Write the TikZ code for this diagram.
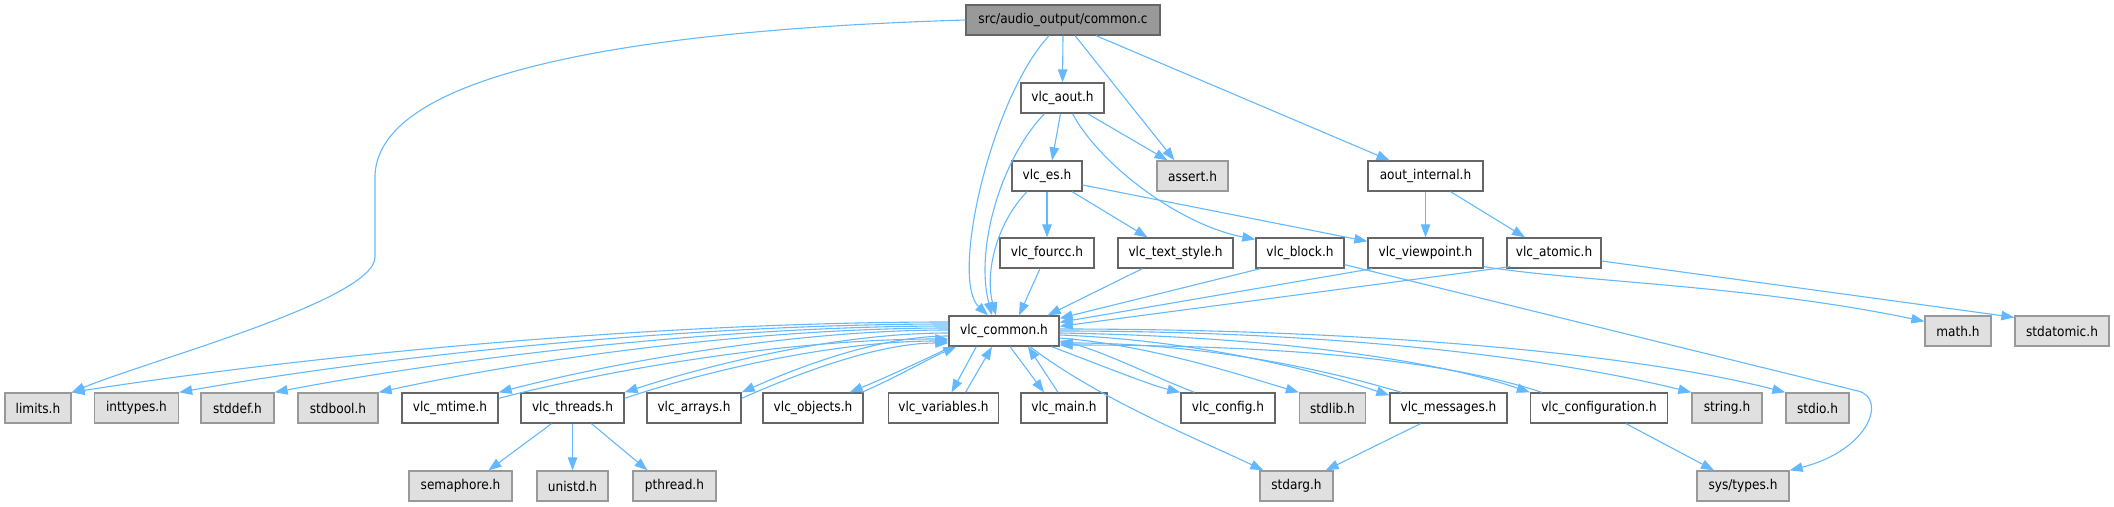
\documentclass[tikz,border=0pt]{standalone}
\usepackage{fontspec}
\setmainfont{DejaVu Sans Condensed}
\usetikzlibrary{arrows.meta,calc}
\definecolor{edgeblue}{HTML}{63B8FF}
\definecolor{bord}{HTML}{666666}
\definecolor{sysbord}{HTML}{999999}
\definecolor{sysfill}{HTML}{E0E0E0}
\definecolor{topfill}{HTML}{999999}
\tikzset{
  hbox/.style={draw=bord, fill=white, line width=1.3pt, minimum height=30pt, inner sep=0pt, text=black, font=\fontsize{13.5}{16}\selectfont},
  sysbox/.style={hbox, draw=sysbord, fill=sysfill},
  topbox/.style={hbox, fill=topfill},
  dep/.style={draw=edgeblue, line width=1.1pt, -{Triangle[length=13pt,width=9.5pt]}},
}
\begin{document}
\begin{tikzpicture}[x=1pt,y=-1pt]
\useasboundingbox (0,0) rectangle (2114,506);
% ---- nodes ----
\node[topbox, minimum width=194pt] (cmn) at (1063,20) {src/audio\_output/common.c};
\node[hbox, minimum width=83pt] (aout) at (1062.5,98) {vlc\_aout.h};
\node[sysbox, minimum width=71pt] (asrt) at (1192.5,176) {assert.h};
\node[hbox, minimum width=70pt] (es) at (1047,176) {vlc\_es.h};
\node[hbox, minimum width=115pt] (aint) at (1425.5,176) {aout\_internal.h};
\node[hbox, minimum width=94pt] (fcc) at (1047,253) {vlc\_fourcc.h};
\node[hbox, minimum width=115pt] (txt) at (1175.5,253) {vlc\_text\_style.h};
\node[hbox, minimum width=88pt] (blk) at (1300,253) {vlc\_block.h};
\node[hbox, minimum width=115pt] (vp) at (1425.5,253) {vlc\_viewpoint.h};
\node[hbox, minimum width=94pt] (atm) at (1554,253) {vlc\_atomic.h};
\node[hbox, minimum width=110pt] (vc) at (1004,331) {vlc\_common.h};
\node[sysbox, minimum width=66pt] (mth) at (1958,331) {math.h};
\node[sysbox, minimum width=94pt] (satm) at (2062,331) {stdatomic.h};
\node[sysbox, minimum width=66pt] (lim) at (38,408) {limits.h};
\node[sysbox, minimum width=84pt] (intt) at (136.5,408) {inttypes.h};
\node[sysbox, minimum width=73pt] (sdef) at (237.5,408) {stddef.h};
\node[sysbox, minimum width=80pt] (sbool) at (338,408) {stdbool.h};
\node[hbox, minimum width=96pt] (mt) at (450,408) {vlc\_mtime.h};
\node[hbox, minimum width=103pt] (thr) at (572.5,408) {vlc\_threads.h};
\node[hbox, minimum width=94pt] (arr) at (694,408) {vlc\_arrays.h};
\node[hbox, minimum width=100pt] (obj) at (813,408) {vlc\_objects.h};
\node[hbox, minimum width=110pt] (var) at (943.5,408) {vlc\_variables.h};
\node[hbox, minimum width=86pt] (vmain) at (1064,408) {vlc\_main.h};
\node[hbox, minimum width=94pt] (cfg) at (1228,408) {vlc\_config.h};
\node[sysbox, minimum width=66pt] (slib) at (1332.5,408) {stdlib.h};
\node[hbox, minimum width=117pt] (msg) at (1448.5,408) {vlc\_messages.h};
\node[hbox, minimum width=137pt] (cnf) at (1599,408) {vlc\_configuration.h};
\node[sysbox, minimum width=70pt] (str) at (1727,408) {string.h};
\node[sysbox, minimum width=63pt] (sio) at (1817.5,408) {stdio.h};
\node[sysbox, minimum width=103pt] (sem) at (460.5,486) {semaphore.h};
\node[sysbox, minimum width=71pt] (uni) at (572.5,486) {unistd.h};
\node[sysbox, minimum width=83pt] (pth) at (674.5,486) {pthread.h};
\node[sysbox, minimum width=73pt] (sarg) at (1296.5,486) {stdarg.h};
\node[sysbox, minimum width=92pt] (stys) at (1743,486) {sys/types.h};
% ---- top part ----
\draw[dep] (cmn.south) -- (aout.north);
\draw[dep] ($(cmn.south)+(12,0)$) -- ($(asrt.north)+(-18,0)$);
\draw[dep] ($(cmn.south)+(33,0)$) -- ($(aint.north)+(-36,0)$);
\draw[dep] ($(cmn.south)+(-14,0)$) .. controls (990,100) and (950,280) .. ($(vc.north)+(-16,0)$);
\draw[dep] (cmn.west) .. controls (700,28) and (380,60) .. (375,175) -- (375,257) .. controls (375,300) and (150,360) .. (lim.north east);
\draw[dep] ($(aout.south)+(-2,0)$) -- ($(es.north)+(5,0)$);
\draw[dep] ($(aout.south)+(25,0)$) -- ($(asrt.north)+(-25,0)$);
\draw[dep] ($(aout.south)+(10,0)$) .. controls (1100,165) and (1180,225) .. ($(blk.north west)+(0,2)$);
\draw[dep] ($(aout.south)+(-18,0)$) .. controls (1000,160) and (975,250) .. ($(vc.north)+(-12,0)$);
\draw[dep] (es.south) -- (fcc.north);
\draw[dep] ($(es.south)+(25,0)$) -- ($(txt.north)+(-28,0)$);
\draw[dep] ($(es.east)+(0,9)$) -- ($(vp.north west)+(0,4)$);
\draw[dep] ($(es.south)+(-20,0)$) .. controls (995,225) and (985,275) .. ($(vc.north)+(-8,0)$);
\draw[dep] (aint.south) -- (vp.north);
\draw[dep] ($(aint.south)+(25,0)$) -- ($(atm.north)+(-29,0)$);
\draw[dep] ($(fcc.south)+(-7,0)$) -- ($(vc.north)+(15,0)$);
\draw[dep] ($(txt.south west)+(25,0)$) -- ($(vc.north east)+(-12,0)$);
\draw[dep] ($(blk.south west)+(5,0)$) -- ($(vc.north east)+(0,3)$);
\draw[dep] ($(vp.south west)+(5,0)$) -- ($(vc.north east)+(0,7)$);
\draw[dep] ($(atm.south west)+(4,-2)$) -- ($(vc.north east)+(0,11)$);
\draw[dep] ($(blk.south east)+(0,-4)$) -- (1858,391) .. controls (1887,398) and (1870,450) .. (stys.north east);
\draw[dep] ($(vp.south east)+(0,-2)$) .. controls (1580,282) and (1750,285) .. ($(mth.north west)+(0,6)$);
\draw[dep] ($(atm.east)+(0,8)$) -- ($(satm.north west)+(0,2)$);
% ---- vlc_common to the left ----
\draw[dep] ($(vc.west)+(0,-9)$) .. controls (642,322) and (291,358) .. (lim.north east);
\draw[dep] ($(vc.west)+(0,-7)$) .. controls (679,324) and (371,358) .. (intt.north east);
\draw[dep] ($(vc.west)+(0,-5)$) .. controls (713,326) and (443,360) .. (sdef.north east);
\draw[dep] ($(vc.west)+(0,-3)$) .. controls (749,328) and (521,361) .. (sbool.north east);
\draw[dep] ($(vc.west)+(0,-1)$) .. controls (791,330) and (611,363) .. (mt.north east);
\draw[dep] ($(vc.west)+(0,2)$) .. controls (835,333) and (705,366) .. (thr.north east);
\draw[dep] ($(vc.west)+(0,5)$) .. controls (876,336) and (792,370) .. (arr.north east);
\draw[dep] ($(vc.south west)+(3,0)$) .. controls (920,362) and (880,380) .. ($(obj.north east)+(-14,0)$);
\draw[dep] ($(mt.north east)+(0,6)$) .. controls (611,369) and (791,339) .. ($(vc.west)+(0,8)$);
\draw[dep] ($(thr.north east)+(0,6)$) .. controls (705,371) and (835,341) .. ($(vc.west)+(0,10)$);
\draw[dep] ($(arr.north east)+(0,6)$) .. controls (792,376) and (876,343) .. ($(vc.west)+(0,12)$);
\draw[dep] ($(obj.north east)+(-2,0)$) .. controls (895,378) and (930,358) .. ($(vc.south west)+(8,0)$);
\draw[dep] ($(vc.south west)+(28,0)$) -- ($(var.north)+(8,0)$);
\draw[dep] ($(var.north)+(22,0)$) -- ($(vc.south)+(-12,0)$);
\draw[dep] ($(vc.south)+(6,0)$) -- ($(vmain.north)+(-20,0)$);
\draw[dep] ($(vmain.north)+(-6,0)$) -- ($(vc.south)+(24,0)$);
% ---- vlc_common to the right ----
\draw[dep] ($(vc.south east)+(-8,0)$) .. controls (1100,365) and (1150,385) .. (cfg.north west);
\draw[dep] ($(cfg.north west)+(14,0)$) .. controls (1150,375) and (1100,350) .. ($(vc.east)+(0,10)$);
\draw[dep] ($(vc.east)+(0,7)$) .. controls (1150,345) and (1240,375) .. (slib.north west);
\draw[dep] ($(vc.east)+(0,4)$) .. controls (1200,340) and (1320,372) .. ($(msg.north west)+(0,3)$);
\draw[dep] ($(msg.north west)+(12,0)$) .. controls (1320,368) and (1200,343) .. ($(vc.east)+(0,12)$);
\draw[dep] ($(vc.east)+(0,2)$) .. controls (1300,337) and (1450,365) .. (cnf.north west);
\draw[dep] ($(cnf.north west)+(12,0)$) .. controls (1450,362) and (1300,345) .. ($(vc.east)+(0,14)$);
\draw[dep] ($(vc.east)+(0,0)$) .. controls (1350,331) and (1560,360) .. (str.north west);
\draw[dep] ($(vc.east)+(0,-2)$) .. controls (1380,329) and (1640,355) .. (sio.north west);
\draw[dep] ($(vc.south)+(26,0)$) .. controls (1100,400) and (1200,440) .. ($(sarg.north west)+(4,0)$);
% ---- bottom rows ----
\draw[dep] ($(thr.south)+(-21,0)$) -- ($(sem.north)+(28,0)$);
\draw[dep] (thr.south) -- (uni.north);
\draw[dep] ($(thr.south)+(19,0)$) -- ($(pth.north)+(-27,0)$);
\draw[dep] ($(msg.south)+(-28,0)$) -- ($(sarg.north east)+(-8,0)$);
\draw[dep] ($(cnf.south)+(27,0)$) -- ($(stys.north)+(-29,0)$);
\end{tikzpicture}
\end{document}
